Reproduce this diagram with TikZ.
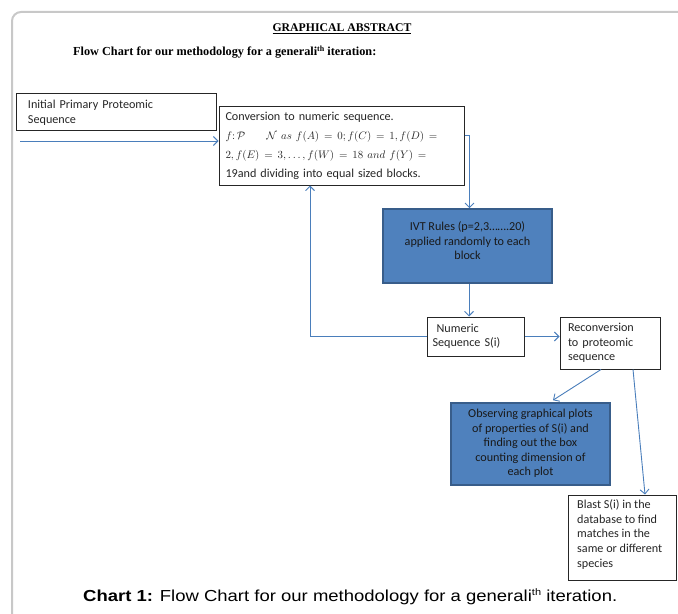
\documentclass[tikz,border=0pt]{standalone}
\usepackage{fontspec}
\usepackage{amssymb}
\setmainfont{Carlito}
\newfontfamily\timesfont{Liberation Serif}
\newfontfamily\arialfont[FakeStretch=1.16]{Liberation Sans}
\usetikzlibrary{arrows.meta,calc}
\definecolor{framegray}{HTML}{C8C8C8}
\definecolor{fillblue}{HTML}{4F81BD}
\definecolor{edgeblue}{HTML}{385D8A}
\definecolor{linkblue}{HTML}{4A7EBB}
\newcommand{\mysup}[2]{\raisebox{#1}{\fontsize{#2}{#2}\selectfont th}}
\tikzset{
  boxfont/.style={font=\fontsize{12.2}{14.6}\selectfont},
  plainbox/.style={draw=black!85, line width=1bp, fill=white, inner sep=0pt,
    boxfont, text=black!85},
  bluebox/.style={draw=edgeblue, line width=1.6bp, fill=fillblue, inner sep=0pt},
  bluetext/.style={boxfont, text=black!90, align=center, inner sep=0pt},
  conn/.style={draw=linkblue, line width=0.9bp, -{Straight Barb[length=4.5bp,width=9bp]}}
}
\begin{document}
\begin{tikzpicture}[x=1bp,y=-1bp]
\useasboundingbox (0,0) rectangle (678,614);
% frame
\draw[framegray, line width=2bp, rounded corners=9bp] (12,620) -- (12,12) -- (690,12);
% titles
\node[font=\timesfont\bfseries\fontsize{11.8}{13}\selectfont] (ttl) at (342,29) {\underline{GRAPHICAL ABSTRACT}};
\node[font=\timesfont\bfseries\fontsize{12.3}{14}\selectfont, anchor=west, inner sep=0pt] (sub) at (73,52) {Flow Chart for our methodology for a generali\mysup{4.5bp}{8}\ iteration:};
% boxes
\node[plainbox, minimum width=199bp, minimum height=37bp, text width=177bp, align=left] (init) at (116.5,112.5) {Initial Primary Proteomic\\Sequence};
\node[plainbox, minimum width=245bp, minimum height=78bp, text width=232bp, align=left,
      font=\fontsize{12.2}{19}\selectfont] (conv) at (341.5,146)
  {Conversion to numeric sequence.\\
   {\fontsize{10.6}{19}\selectfont$f\colon\mathcal{P}\qquad\mathcal{N}\ as\ f(A)\,=\,0; f(C)\,=\,1, f(D)\,=$}\\
   {\fontsize{10.6}{19}\selectfont$2, f(E)\,=\,3,\dots, f(W)\,=\,18\ and\ f(Y)\,=$}\\
   19and dividing into equal sized blocks.};
\node[bluebox, minimum width=169bp, minimum height=74bp] (ivt) at (467.5,246) {};
\node[bluetext] (ivtt) at (467.5,241) {IVT Rules (p=2,3…….20)\\applied randomly to each\\block};
\node[plainbox, minimum width=97bp, minimum height=39bp, text width=86bp, align=left] (num) at (475.5,336.5)
  {\ Numeric\\Sequence S(i)};
\node[plainbox, minimum width=100bp, minimum height=52bp, text width=84bp, align=left] (rec) at (610,343)
  {Reconversion\\to proteomic\\sequence};
\node[bluebox, minimum width=159bp, minimum height=82bp] (obs) at (530.5,444) {};
\node[bluetext] (obst) at (530.5,443.5)
  {Observing graphical plots\\of properties of S(i) and\\finding out the box\\counting dimension of\\each plot};
\node[plainbox, minimum width=108bp, minimum height=85bp] (blast) at (622,537.5) {};
\node[boxfont, text=black!85, align=left, anchor=west, inner sep=0pt] (blastt) at (577,534.5)
  {Blast S(i) in the\\database to find\\matches in the\\same or different\\species};
% connectors
\coordinate (in0) at (20,141);
\draw[conn] (in0) -- (in0 -| conv.west);
\draw[conn] ([yshift=11bp]conv.east) -| ([xshift=2bp]ivt.north);
\draw[conn] ([xshift=1.5bp]ivt.south) -- ([xshift=1.5bp]ivt.south |- num.north);
\draw[conn] (num.east) -- (num.east -| rec.west);
\draw[conn] (num.west) -| ([xshift=-31.5bp]conv.south);
\draw[conn] ([xshift=-9bp]rec.south) -- ([xshift=22.5bp,yshift=2bp]obs.north);
\draw[conn] ([xshift=23bp]rec.south) -- ([xshift=23bp]blast.north);
% caption
\node[font=\arialfont\fontsize{16}{19}\selectfont, anchor=west, inner sep=0pt] (cap) at (83,597)
  {\textbf{Chart 1:} Flow Chart for our methodology for a generali\mysup{6bp}{9.5}\ iteration.};
\end{tikzpicture}
\end{document}
